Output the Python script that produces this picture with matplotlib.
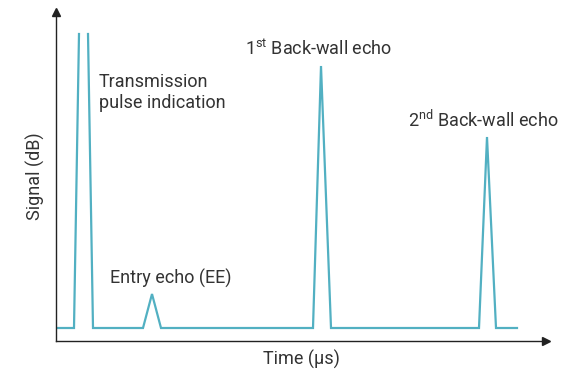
import numpy as np
import matplotlib.pyplot as plt

plt.rcParams['font.family'] = ['Roboto', 'DejaVu Sans']
plt.rcParams['mathtext.fontset'] = 'custom'
plt.rcParams['mathtext.rm'] = 'Roboto'

# Signal trace (arbitrary time units, signal height), NaN breaks the clipped pulse top
time = [0, 18, 23, np.nan, 32, 37, 87, 96, 105, 257, 265, 275, 423, 431, 440, 461]
signal = [13, 13, 307, np.nan, 307, 13, 13, 47, 13, 13, 275, 13, 13, 204, 13, 13]

labels = ['Transmission\npulse indication', 'Entry echo (EE)',
          '1$^{\\mathrm{st}}$ Back-wall echo', '2$^{\\mathrm{nd}}$ Back-wall echo']
label_pos = [(43, 233), (54, 57), (189, 286), (352, 214)]

line_color = '#52b0c2'
text_color = '#333333'

fig = plt.figure(figsize=(5.72, 3.70), dpi=100)
ax = fig.add_axes([56 / 572, 29 / 370, 490 / 572, 329 / 370])

ax.plot(time, signal, color=line_color, lw=1.6, solid_joinstyle='miter')

for txt, (x, y) in zip(labels, label_pos):
    ax.text(x, y, txt, fontsize=13, color=text_color, ha='left', va='baseline',
            linespacing=1.2)

ax.set_xlim(0, 490)
ax.set_ylim(0, 329)
for s in ['top', 'right']:
    ax.spines[s].set_visible(False)
for s in ['left', 'bottom']:
    ax.spines[s].set_color('#222222')
    ax.spines[s].set_linewidth(1.0)
ax.set_xticks([])
ax.set_yticks([])

# arrow heads on the axes
ax.plot(1, 0, '>', color='#222222', ms=5.5, transform=ax.transAxes, clip_on=False)
ax.plot(0, 1, '^', color='#222222', ms=5.5, transform=ax.transAxes, clip_on=False)

ax.set_xlabel('Time (μs)', fontsize=13, color=text_color, labelpad=6)
ax.set_ylabel('Signal (dB)', fontsize=13, color=text_color, labelpad=8)

fig.savefig('out.png', dpi=100)
